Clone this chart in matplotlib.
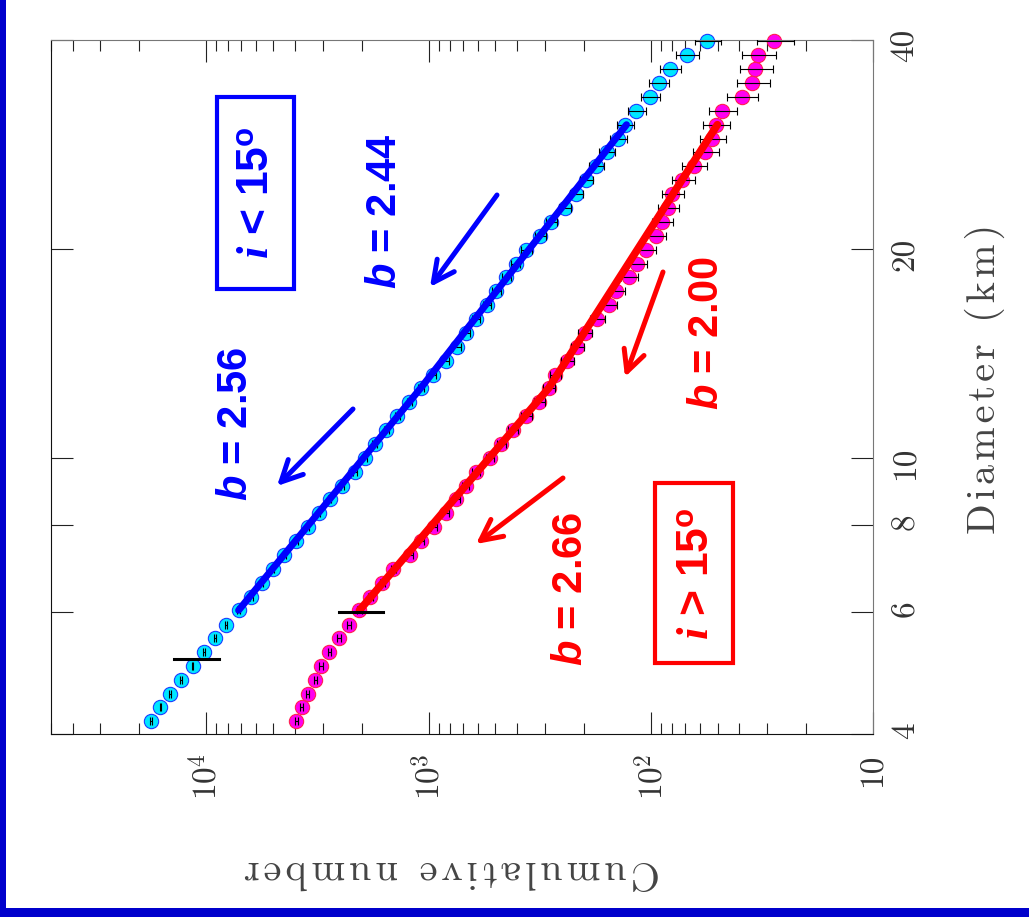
import numpy as np
import matplotlib
matplotlib.use("Agg")
import matplotlib.pyplot as plt
from matplotlib.patches import Rectangle
from matplotlib.ticker import FixedLocator, FixedFormatter, LogLocator, NullFormatter, NullLocator

# diameter bins (km), shared by both inclination groups
diameter = [4.17, 4.37, 4.57, 4.79, 5.01, 5.25, 5.50, 5.75, 6.03, 6.31,
            6.61, 6.92, 7.24, 7.59, 7.94, 8.32, 8.71, 9.12, 9.55, 10.0,
            10.47, 10.96, 11.48, 12.02, 12.59, 13.18, 13.80, 14.45, 15.14, 15.85,
            16.60, 17.38, 18.20, 19.05, 19.95, 20.89, 21.88, 22.91, 23.99, 25.12,
            26.30, 27.54, 28.84, 30.20, 31.62, 33.11, 34.67, 36.31, 38.02, 39.81]

# cumulative counts, i < 15 deg
n_low_inc = [17750, 16110, 14530, 13000, 11530, 10280, 9140, 8150, 7160, 6270,
             5640, 5030, 4450, 3950, 3500, 3120, 2790, 2440, 2150, 1940,
             1750, 1550, 1380, 1220, 1080, 959, 838, 745, 676, 610,
             548, 495, 448, 406, 363, 315, 280, 244, 216, 195,
             176, 158, 140, 130, 116, 101, 92, 82, 69, 56]

# cumulative counts, i > 15 deg
n_high_inc = [3945, 3720, 3500, 3230, 3042, 2793, 2535, 2270, 2046, 1825,
              1612, 1438, 1211, 1076, 949, 838, 750, 681, 610, 531,
              471, 417, 363, 318, 288, 269, 238, 214, 198, 174,
              154, 143, 125, 115, 105, 95, 89, 84, 80, 72,
              64, 57, 53, 51, 48, 39, 35, 34, 33, 28]

# broken power-law fits: N ~ D^-b
fit_D = [6.03, 12.6, 30.2]
low_fit_N0, low_fit_b = 7160, [2.56, 2.44]
high_fit_N0, high_fit_b = 2046, [2.66, 2.00]

# completeness limits
limit_D = [5.13, 6.0]
limit_N = [(8810, 13930), (1597, 2535)]

count_ticks = [10, 100, 1000, 10000]
count_labels = ["10", "10$^{2}$", "10$^{3}$", "10$^{4}$"]
diam_ticks = [4, 6, 8, 10, 20, 40]
diam_labels = ["4", "6", "8", "10", "20", "40"]


def broken_powerlaw(d_nodes, n0, slopes):
    n = [n0]
    for i, b in enumerate(slopes):
        n.append(n[-1] * (d_nodes[i + 1] / d_nodes[i]) ** (-b))
    return n


def spaced(s):
    return "\u200a".join(s)


plt.rcParams["font.family"] = ["cmr10", "DejaVu Sans"]
plt.rcParams["mathtext.fontset"] = "custom"
plt.rcParams["mathtext.rm"] = "cmr10"
plt.rcParams["mathtext.it"] = "Liberation Serif:italic:bold"
plt.rcParams["mathtext.bf"] = "Liberation Sans:bold"
plt.rcParams["mathtext.bfit"] = "Liberation Sans:italic:bold"

W, H = 1029, 917
fig = plt.figure(figsize=(W / 100, H / 100), dpi=100)
ax = fig.add_axes([51 / W, 1 - 734 / H, 822 / W, 694 / H])

# px -> axes fraction helper for the annotations
def af(px, py):
    return (px - 51) / 822, (734 - py) / 694

N1 = np.array(n_low_inc, dtype=float)
N2 = np.array(n_high_inc, dtype=float)

ax.plot(N1, diameter, "o", ms=10.3, mfc="#00e6ff", mec="#1a3cff", mew=0.8,
        clip_on=False, zorder=2)
ax.plot(N2, diameter, "o", ms=10.3, mfc="#ff00f0", mec="#ff2050", mew=0.8,
        clip_on=False, zorder=2)
ax.errorbar(N1, diameter, xerr=np.sqrt(N1), fmt="none", ecolor="black",
            elinewidth=0.8, capsize=3, capthick=0.8, zorder=3)
ax.errorbar(N2, diameter, xerr=np.sqrt(N2), fmt="none", ecolor="black",
            elinewidth=0.8, capsize=3, capthick=0.8, zorder=3)

ax.plot(broken_powerlaw(fit_D, low_fit_N0, low_fit_b), fit_D, color="#0000ff",
        lw=5, solid_capstyle="round", zorder=4)
ax.plot(broken_powerlaw(fit_D, high_fit_N0, high_fit_b), fit_D, color="#ff0000",
        lw=5.5, solid_capstyle="round", zorder=4)

for d, (lo, hi) in zip(limit_D, limit_N):
    ax.plot([lo, hi], [d, d], color="black", lw=2.2, zorder=5)

ax.set_xscale("log")
ax.set_yscale("log")
ax.set_xlim(5e4, 10)
ax.set_ylim(4, 40)

ax.xaxis.set_major_locator(FixedLocator(count_ticks))
ax.xaxis.set_major_formatter(FixedFormatter(count_labels))
ax.xaxis.set_minor_locator(LogLocator(base=10, subs=range(2, 10)))
ax.xaxis.set_minor_formatter(NullFormatter())
ax.yaxis.set_major_locator(FixedLocator(diam_ticks))
ax.yaxis.set_major_formatter(FixedFormatter(diam_labels))
ax.yaxis.set_minor_locator(NullLocator())

ax.tick_params(which="both", direction="in", top=True, bottom=True, left=True, right=True,
               colors="#222", labelcolor="#333", width=0.8)
ax.tick_params(which="major", length=16)
ax.tick_params(which="minor", length=8)
ax.tick_params(axis="x", labelrotation=90, pad=14, labelsize=24)
ax.tick_params(axis="y", labelleft=False, labelright=True, labelrotation=90, pad=13, labelsize=24)

for side in ["left", "bottom"]:
    ax.spines[side].set_color("#111")
for side in ["top", "right"]:
    ax.spines[side].set_color("#777")

# slope labels and arrows
blue, red = "#0000ff", "#ff0000"
slope_labels = [
    (r"$\mathbfit{b}$ = 2.56", (236, 424), blue),
    (r"$\mathbfit{b}$ = 2.44", (385, 211), blue),
    (r"$\mathbfit{b}$ = 2.00", (707, 333), red),
    (r"$\mathbfit{b}$ = 2.66", (571, 589), red),
]
for txt, (px, py), col in slope_labels:
    ax.text(*af(px, py), txt, transform=ax.transAxes, rotation=90, ha="center",
            va="center", color=col, fontsize=30, fontweight="bold",
            family="Liberation Sans")

arrows = [
    ((353, 409), (277, 486), blue),
    ((497, 195), (430, 287), blue),
    ((663, 272), (625, 377), red),
    ((563, 478), (476, 544), red),
]
for tail, head, col in arrows:
    ax.annotate("", xy=af(*head), xycoords="axes fraction",
                xytext=af(*tail), textcoords="axes fraction",
                arrowprops=dict(arrowstyle="->", color=col, lw=3.6,
                                mutation_scale=38, shrinkA=0, shrinkB=0))

# inclination boxes: label text, text centre, frame corners (x0, y0, x1, y1)
boxes = [
    (r"$i$ < $\mathbf{15}^{\mathbf{o}}$", (257, 193), (217, 97, 294, 289), blue),
    (r"$i$ > $\mathbf{15}^{\mathbf{o}}$", (696, 574), (655, 483, 733, 663), red),
]
for txt, (px, py), (x0, y0, x1, y1), col in boxes:
    ax.text(*af(px, py), txt, transform=ax.transAxes, rotation=90, ha="center",
            va="center", color=col, fontsize=32, fontweight="bold",
            family="Liberation Sans")
    fx0, fy0 = af(x0, y1)
    fx1, fy1 = af(x1, y0)
    ax.add_patch(Rectangle((fx0, fy0), fx1 - fx0, fy1 - fy0, transform=ax.transAxes,
                           fill=False, ec=col, lw=3, zorder=6))

fig.text(452 / W, 1 - 871 / H, spaced("Cumulative number"), rotation=180,
         ha="center", va="center", fontsize=29, color="#444")
fig.text(985 / W, 1 - 379 / H, spaced("Diameter (km)"), rotation=90,
         ha="center", va="center", fontsize=29, color="#444")

# page frame
fig.add_artist(Rectangle((0, 0), 6 / W, 1, transform=fig.transFigure,
                         color="#0000cc", lw=0))
fig.add_artist(Rectangle((0, 0), 1, 9 / H, transform=fig.transFigure,
                         color="#0000cc", lw=0))

fig.savefig("out.png", dpi=100)
